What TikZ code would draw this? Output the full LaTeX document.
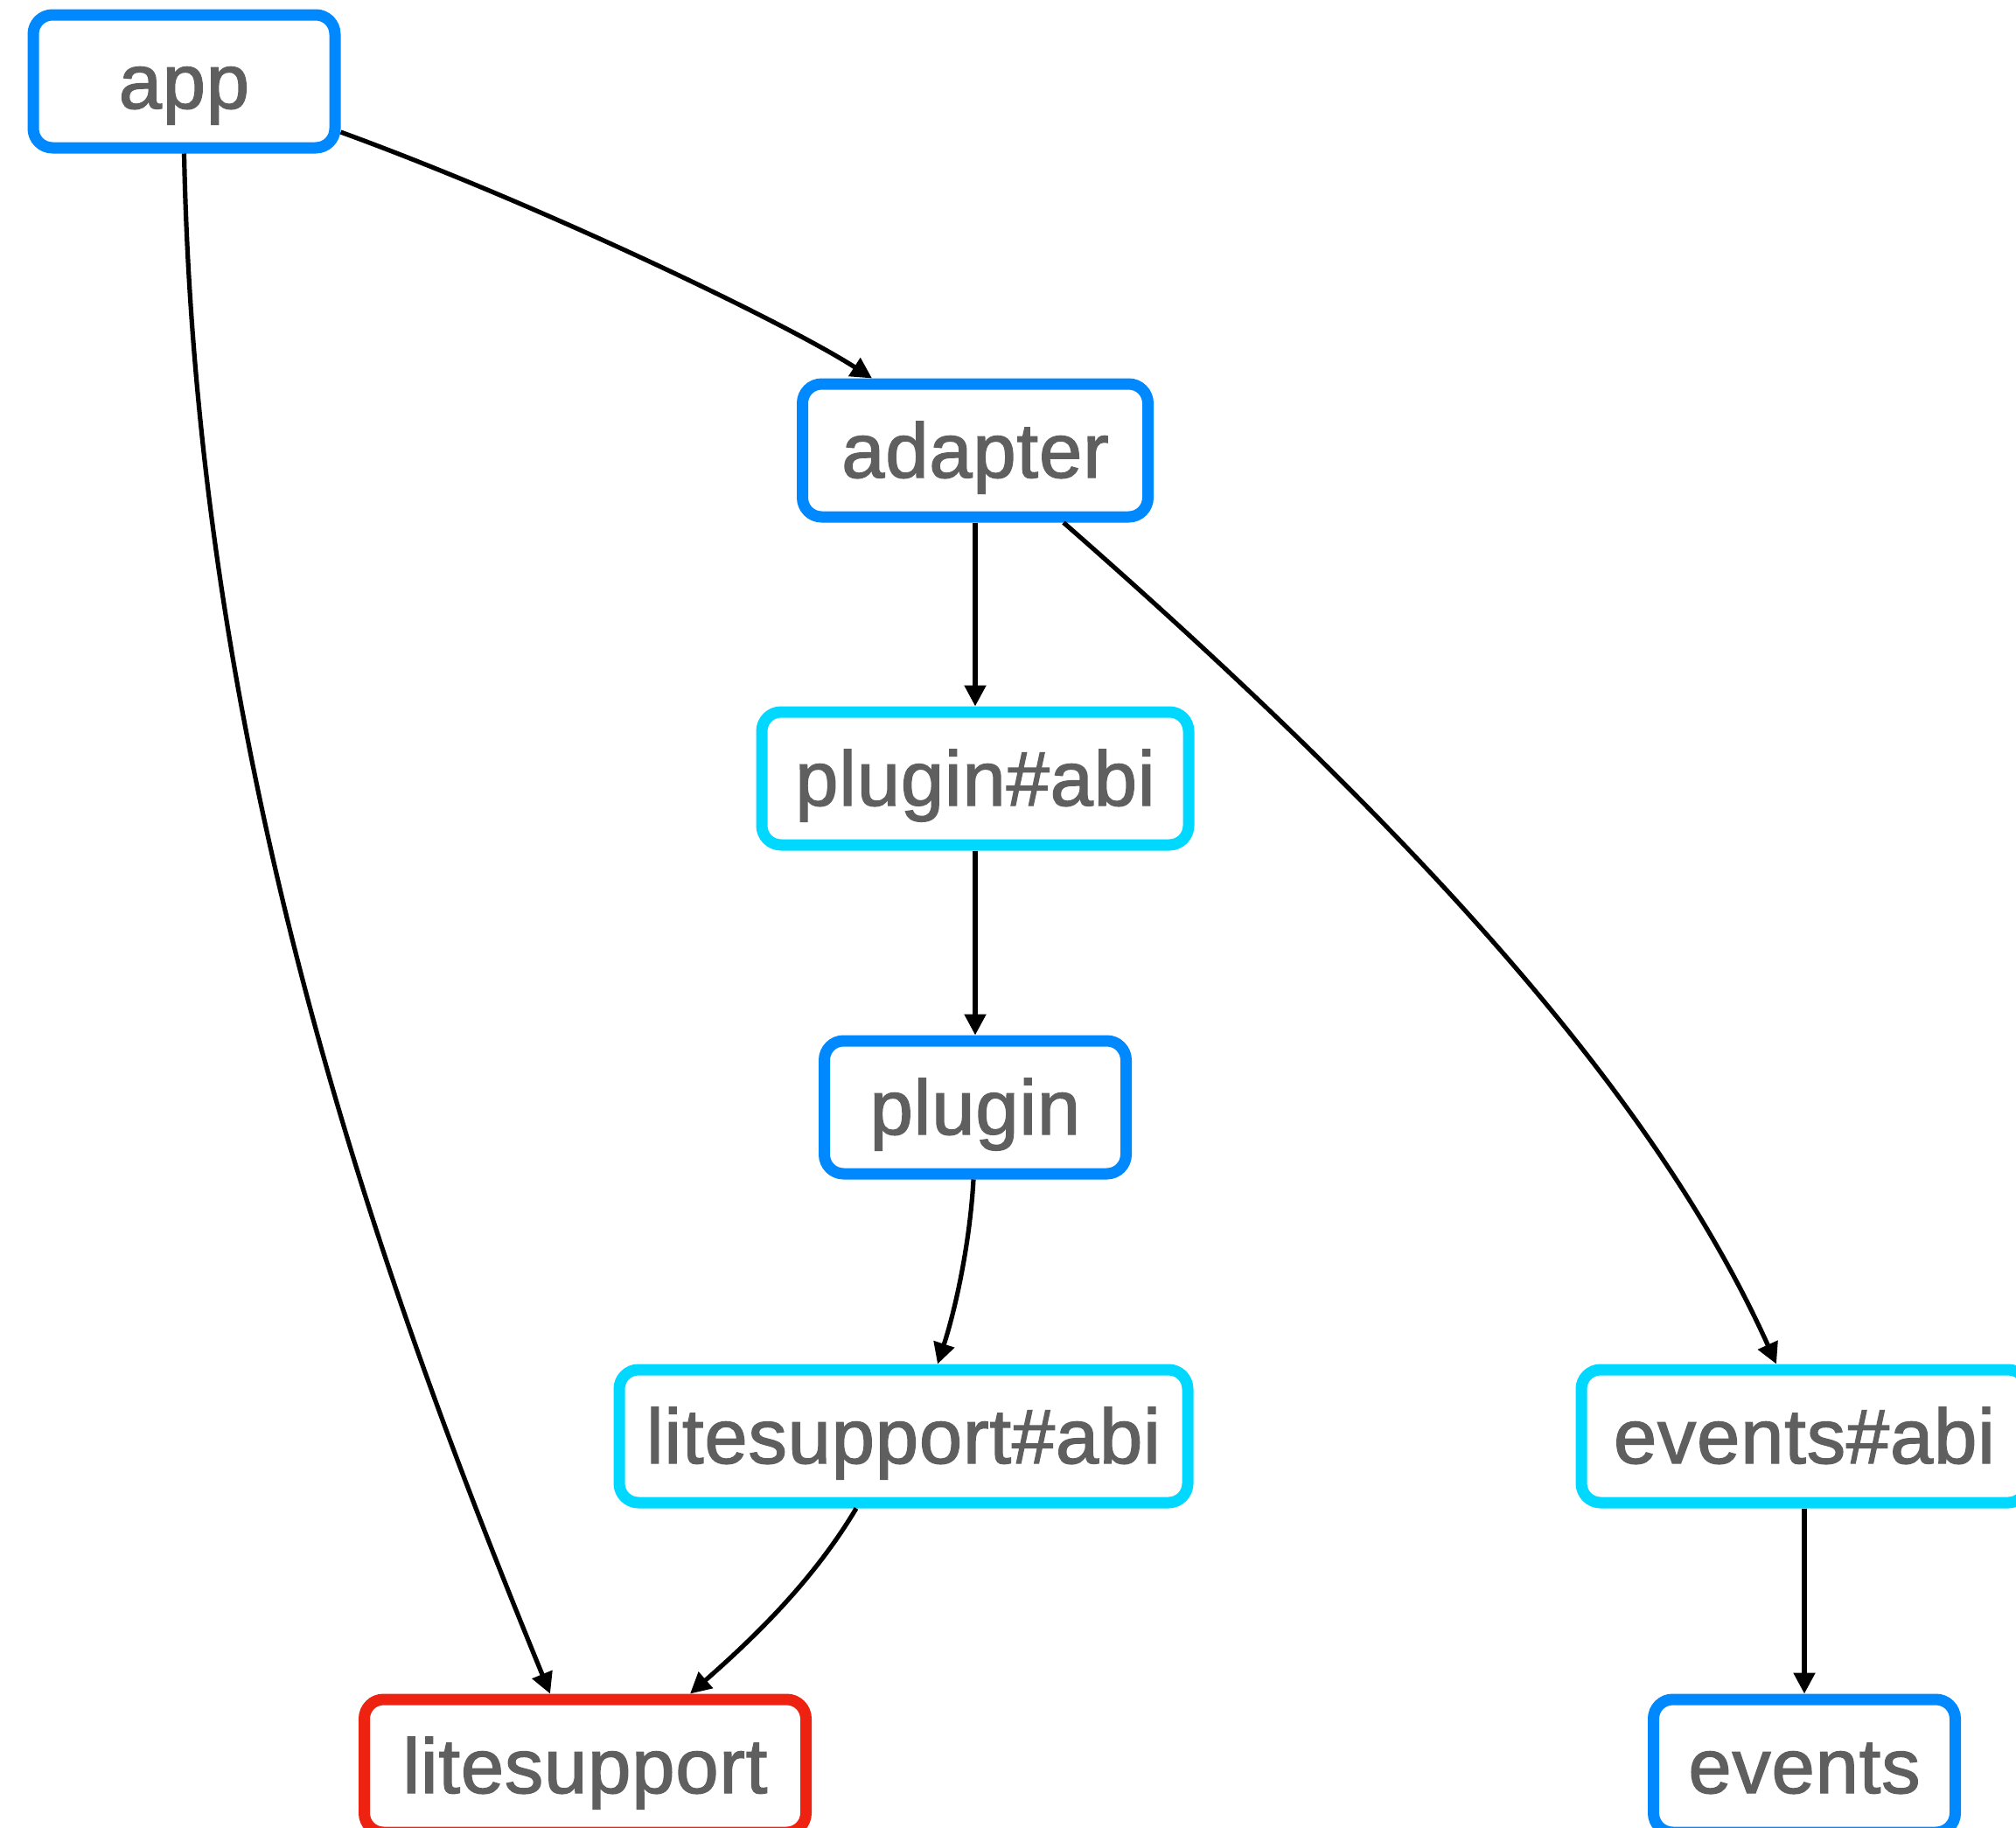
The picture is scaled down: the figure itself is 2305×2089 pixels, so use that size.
\documentclass[tikz,border=0pt]{standalone}
\usepackage{fontspec}
\setmainfont{Liberation Sans}
\newfontfamily\nodefont[FakeBold=1.6,LetterSpace=1]{Liberation Sans}
\usetikzlibrary{arrows.meta,calc}
\definecolor{cblue}{RGB}{0,136,255}
\definecolor{ccyan}{RGB}{0,216,255}
\definecolor{cred}{RGB}{238,34,17}
\definecolor{ctext}{RGB}{95,95,95}
\begin{document}
\begin{tikzpicture}[x=1pt,y=-1pt,
  box/.style={draw, line width=13pt, rounded corners=22pt, fill=white,
    minimum height=152pt, inner sep=0pt, text=ctext,
    font=\nodefont\fontsize{88.5pt}{100pt}\selectfont, text height=62pt, text depth=0pt},
  bluebox/.style={box, draw=cblue},
  cyanbox/.style={box, draw=ccyan},
  redbox/.style={box, draw=cred},
  arr/.style={-{Triangle[length=24pt,width=24pt]}, line width=5.2pt, black}]
\useasboundingbox (0,0) rectangle (2305,2089);
\clip (0,0) rectangle (2305,2089);
\node[bluebox, minimum width=345pt] (app) at (210.5,93) {app};
\node[bluebox, minimum width=395pt] (adapter) at (1115,515) {adapter};
\node[cyanbox, minimum width=488pt] (pabi) at (1115,890) {plugin\#abi};
\node[bluebox, minimum width=345pt] (plugin) at (1115,1266) {plugin};
\node[cyanbox, minimum width=650pt] (labi) at (1033,1642) {litesupport\#abi};
\node[cyanbox, minimum width=510pt] (eabi) at (2063,1642) {events\#abi};
\node[redbox, minimum width=505pt] (lite) at (669,2019) {litesupport};
\node[bluebox, minimum width=345pt] (events) at (2063,2019) {events};
\draw[arr] ($(app.east)+(0,58)$) .. controls (620,235) and (900,370) .. ($(adapter.north)+(-118,0)$);
\draw[arr] (app.south) .. controls (225,900) and (450,1500) .. ($(lite.north)+(-40,0)$);
\draw[arr] (adapter.south) -- (pabi.north);
\draw[arr] ($(adapter.south)+(101,0)$) .. controls (1630,960) and (1896,1260) .. ($(eabi.north)+(-32,0)$);
\draw[arr] (pabi.south) -- (plugin.north);
\draw[arr] ($(plugin.south)+(-2,0)$) .. controls (1109,1420) and (1093,1495) .. ($(labi.north)+(39,0)$);
\draw[arr] ($(labi.south)+(-54,0)$) .. controls (931,1805) and (866,1869) .. ($(lite.north)+(120,0)$);
\draw[arr] (eabi.south) -- (events.north);
\end{tikzpicture}
\end{document}
